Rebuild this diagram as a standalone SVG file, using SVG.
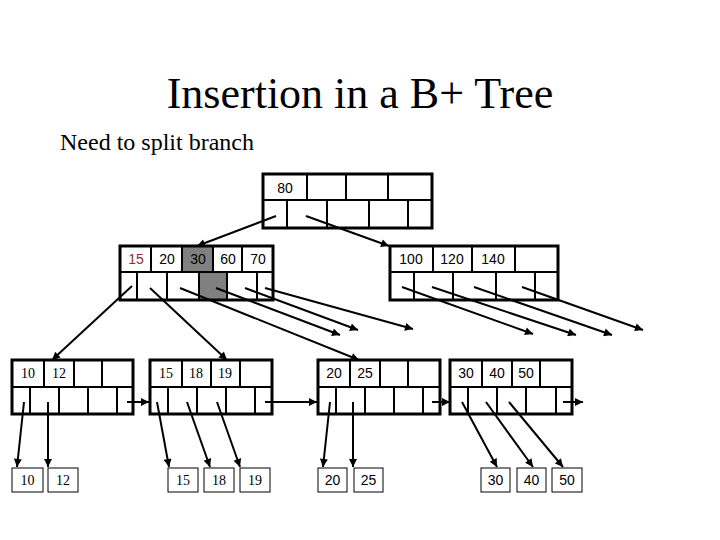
<svg xmlns="http://www.w3.org/2000/svg" width="720" height="540" viewBox="0 0 720 540">
<style>
.frame{fill:none;stroke:#000;stroke-width:3}
.div{stroke:#000;stroke-width:2;fill:none}
.gray{fill:#808080}
.box{fill:#fff;stroke:#000;stroke-width:1}
.t{font-family:"Liberation Sans",Arial,sans-serif;font-size:14px;text-anchor:middle;fill:#000}
.ts{font-family:"Liberation Serif","Times New Roman",serif;font-size:14px;text-anchor:middle;fill:#000}
.red{fill:#9b2b2b}
.title{font-family:"Liberation Serif","Times New Roman",serif;font-size:44px;text-anchor:middle;fill:#000}
.sub{font-family:"Liberation Serif","Times New Roman",serif;font-size:24px;fill:#000}
.c line{stroke:#000;stroke-width:2;marker-end:url(#ah)}
</style>
<defs>
<marker id="ah" viewBox="0 0 10 10" refX="10" refY="5" markerWidth="9" markerHeight="8" markerUnits="userSpaceOnUse" orient="auto">
<path d="M0,0 L10,5 L0,10 Z" fill="#000"/>
</marker>
</defs>
<rect width="720" height="540" fill="#fff"/>
<text class="title" x="360" y="108">Insertion in a B+ Tree</text>
<text class="sub" x="60" y="150">Need to split branch</text>

<g id="root">
<rect class="frame" x="263" y="174" width="169" height="54"/>
<path class="div" d="M263,200H432M307,174V200M346,174V200M388,174V200M287,200V228M327,200V228M369,200V228M408,200V228"/>
<text class="t" x="285" y="193">80</text>
</g>

<g id="internal-left">
<rect class="gray" x="182" y="246" width="31" height="26"/>
<rect class="gray" x="199" y="272" width="28" height="28"/>
<rect class="frame" x="120" y="246" width="153" height="54"/>
<path class="div" d="M120,272H273M151,246V272M182,246V272M213,246V272M242,246V272M137,272V300M167,272V300M199,272V300M227,272V300M257,272V300"/>
<text class="t red" x="136" y="264">15</text>
<text class="t" x="167" y="264">20</text>
<text class="t" x="198" y="264">30</text>
<text class="t" x="228" y="264">60</text>
<text class="t" x="258" y="264">70</text>
</g>

<g id="internal-right">
<rect class="frame" x="390" y="246" width="168" height="54"/>
<path class="div" d="M390,272H558M433,246V272M472,246V272M515,246V272M414,272V300M453,272V300M496,272V300M535,272V300"/>
<text class="t" x="411" y="264">100</text>
<text class="t" x="452" y="264">120</text>
<text class="t" x="493" y="264">140</text>
</g>

<g id="leaf-10-12">
<rect class="frame" x="12" y="360" width="121" height="54"/>
<path class="div" d="M12,387H133M44,360V387M74,360V387M102,360V387M30,387V414M59,387V414M88,387V414M117,387V414"/>
<text class="ts" x="28" y="378">10</text>
<text class="ts" x="59" y="378">12</text>
</g>

<g id="leaf-15-18-19">
<rect class="frame" x="150" y="360" width="122" height="54"/>
<path class="div" d="M150,387H272M182,360V387M211,360V387M240,360V387M168,387V414M197,387V414M226,387V414M255,387V414"/>
<text class="ts" x="166" y="378">15</text>
<text class="ts" x="196" y="378">18</text>
<text class="ts" x="225" y="378">19</text>
</g>

<g id="leaf-20-25">
<rect class="frame" x="318" y="360" width="122" height="54"/>
<path class="div" d="M318,387H440M350,360V387M380,360V387M408,360V387M336,387V414M365,387V414M394,387V414M423,387V414"/>
<text class="t" x="334" y="378">20</text>
<text class="t" x="365" y="378">25</text>
</g>

<g id="leaf-30-40-50">
<rect class="frame" x="450" y="360" width="122" height="54"/>
<path class="div" d="M450,387H572M482,360V387M512,360V387M540,360V387M468,387V414M497,387V414M526,387V414M556,387V414"/>
<text class="t" x="466" y="378">30</text>
<text class="t" x="497" y="378">40</text>
<text class="t" x="526" y="378">50</text>
</g>

<g id="data-10"><rect class="box" x="12" y="468" width="31" height="24"/><text class="ts" x="27.5" y="485">10</text></g>
<g id="data-12"><rect class="box" x="48" y="468" width="30" height="24"/><text class="ts" x="63" y="485">12</text></g>
<g id="data-15"><rect class="box" x="168" y="468" width="30" height="24"/><text class="ts" x="183" y="485">15</text></g>
<g id="data-18"><rect class="box" x="204" y="468" width="30" height="24"/><text class="ts" x="219" y="485">18</text></g>
<g id="data-19"><rect class="box" x="240" y="468" width="30" height="24"/><text class="ts" x="255" y="485">19</text></g>
<g id="data-20"><rect class="box" x="318" y="468" width="29" height="24"/><text class="t" x="332.5" y="485">20</text></g>
<g id="data-25"><rect class="box" x="354" y="468" width="29" height="24"/><text class="t" x="368.5" y="485">25</text></g>
<g id="data-30"><rect class="box" x="481" y="468" width="29" height="24"/><text class="t" x="495.5" y="485">30</text></g>
<g id="data-40"><rect class="box" x="517" y="468" width="29" height="24"/><text class="t" x="531.5" y="485">40</text></g>
<g id="data-50"><rect class="box" x="552" y="468" width="30" height="24"/><text class="t" x="567" y="485">50</text></g>

<g id="connectors" class="c">
<line x1="276" y1="216" x2="197" y2="246"/>
<line x1="306" y1="216" x2="389" y2="246"/>
<line x1="132" y1="286" x2="52" y2="360"/>
<line x1="150" y1="288" x2="227" y2="360"/>
<line x1="180" y1="288" x2="359" y2="360"/>
<line x1="216" y1="288" x2="340" y2="335"/>
<line x1="245" y1="288" x2="358" y2="330"/>
<line x1="265" y1="288" x2="413" y2="329"/>
<line x1="402" y1="287" x2="533" y2="334"/>
<line x1="432" y1="287" x2="576" y2="335"/>
<line x1="474" y1="287" x2="612" y2="335"/>
<line x1="522" y1="287" x2="643" y2="330"/>
<line x1="127" y1="402" x2="149" y2="402"/>
<line x1="265" y1="402" x2="317" y2="402"/>
<line x1="432" y1="402" x2="450" y2="402"/>
<line x1="563" y1="402" x2="583" y2="402"/>
<line x1="24" y1="402" x2="17" y2="467"/>
<line x1="48" y1="402" x2="48" y2="467"/>
<line x1="157" y1="402" x2="169" y2="467"/>
<line x1="187" y1="402" x2="210" y2="467"/>
<line x1="217" y1="402" x2="240" y2="467"/>
<line x1="330" y1="402" x2="323" y2="467"/>
<line x1="353" y1="402" x2="353" y2="467"/>
<line x1="462" y1="402" x2="497" y2="467"/>
<line x1="486" y1="402" x2="533" y2="467"/>
<line x1="509" y1="402" x2="563" y2="467"/>
</g>
</svg>
